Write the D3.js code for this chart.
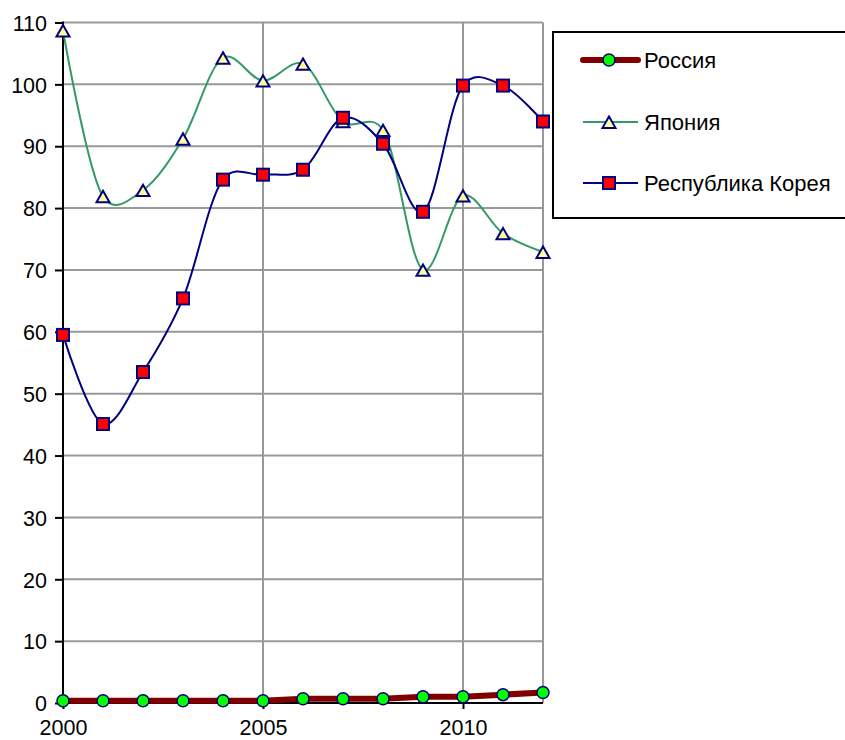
<!DOCTYPE html>
<html>
<head>
<meta charset="utf-8">
<script src="https://cdn.jsdelivr.net/npm/d3@7"></script>
<style>
body{margin:0;background:#fff}
text{font-family:"Liberation Sans",Arial,sans-serif;fill:#000}
</style>
</head>
<body>
<div id="chart"></div>
<script>
var years = [2000,2001,2002,2003,2004,2005,2006,2007,2008,2009,2010,2011,2012]
var russia = [0.35,0.35,0.35,0.35,0.35,0.35,0.7,0.7,0.7,1.0,1.0,1.35,1.7]
var japan = [108.7,81.9,82.9,91.2,104.3,100.6,103.3,94.0,92.6,70.0,82.0,75.9,72.9]
var korea = [59.5,45.1,53.5,65.4,84.6,85.4,86.2,94.6,90.4,79.4,99.8,99.8,94.0]
var yTicks = [0,10,20,30,40,50,60,70,80,90,100,110]
var xTicks = [2000,2005,2010]
var names = ["Россия","Япония","Республика Корея"]

var W = 845, H = 740
var svg = d3.select("#chart").append("svg").attr("width",W).attr("height",H)

var x = d3.scaleLinear().domain([2000,2012]).range([63,543])
var y = d3.scaleLinear().domain([0,110]).range([703,22.5])

// grid
svg.append("g").selectAll("line").data(yTicks.filter(function(d){return d>0}))
	.enter().append("line")
	.attr("x1",x(2000)).attr("x2",x(2012))
	.attr("y1",function(d){return y(d)}).attr("y2",function(d){return y(d)})
	.attr("stroke","#999").attr("stroke-width",2)
svg.append("g").selectAll("line").data([2005,2010,2012])
	.enter().append("line")
	.attr("x1",function(d){return x(d)}).attr("x2",function(d){return x(d)})
	.attr("y1",y(110)).attr("y2",y(0))
	.attr("stroke","#999").attr("stroke-width",2)

// axes
var yAxis = svg.append("g").attr("transform","translate("+x(2000)+",0)")
	.call(d3.axisLeft(y).tickValues(yTicks).tickSize(8).tickPadding(8))
var xAxis = svg.append("g").attr("transform","translate(0,"+y(0)+")")
	.call(d3.axisBottom(x).tickValues(xTicks).tickFormat(d3.format("d")).tickSize(6).tickPadding(11))
svg.selectAll(".domain").remove()
svg.selectAll(".tick line").attr("stroke","#000").attr("stroke-width",2)
svg.selectAll(".tick text").style("font-size","21.5px").attr("fill","#000")
yAxis.selectAll(".tick text").attr("dy","0.36em")
svg.append("line").attr("x1",x(2000)).attr("x2",x(2000)).attr("y1",y(110)-1).attr("y2",y(0)+1).attr("stroke","#000").attr("stroke-width",2)
svg.append("line").attr("x1",x(2000)).attr("x2",x(2012)).attr("y1",y(0)).attr("y2",y(0)).attr("stroke","#000").attr("stroke-width",2)

var line = d3.line().x(function(d,i){return x(years[i])}).y(function(d){return y(d)}).curve(d3.curveCatmullRom.alpha(0.15))
var flat = d3.line().x(function(d,i){return x(years[i])}).y(function(d){return y(d)})

function tri(s){return "M0,"+(-s)+"L"+(s)+","+(s*0.75)+"L"+(-s)+","+(s*0.75)+"Z"}

// Japan
svg.append("path").attr("d",line(japan)).attr("fill","none").attr("stroke","#339966").attr("stroke-width",2)
// Korea
svg.append("path").attr("d",line(korea)).attr("fill","none").attr("stroke","#000080").attr("stroke-width",2)
// Russia
svg.append("path").attr("d",flat(russia)).attr("fill","none").attr("stroke","#800000").attr("stroke-width",6).attr("stroke-linecap","round")

svg.append("g").selectAll("path").data(japan).enter().append("path")
	.attr("d",tri(6.5))
	.attr("transform",function(d,i){return "translate("+x(years[i])+","+(y(d)+1)+")"})
	.attr("fill","#FFFF99").attr("stroke","#000080").attr("stroke-width",2)
svg.append("g").selectAll("rect").data(korea).enter().append("rect")
	.attr("x",function(d,i){return x(years[i])-6}).attr("y",function(d){return y(d)-6})
	.attr("width",12).attr("height",12)
	.attr("fill","#FF0000").attr("stroke","#000080").attr("stroke-width",2)
svg.append("g").selectAll("circle").data(russia).enter().append("circle")
	.attr("cx",function(d,i){return x(years[i])}).attr("cy",function(d){return y(d)})
	.attr("r",6)
	.attr("fill","#00FF00").attr("stroke","#000080").attr("stroke-width",1.5)

// legend
var lg = svg.append("g")
lg.append("rect").attr("x",553).attr("y",32).attr("width",310).attr("height",186)
	.attr("fill","#fff").attr("stroke","#000").attr("stroke-width",2)
var ly = [60,122,183]
for (var i in names){
	var yy = ly[i]
	if (i==0){
		lg.append("line").attr("x1",583).attr("x2",638).attr("y1",yy).attr("y2",yy).attr("stroke","#800000").attr("stroke-width",6).attr("stroke-linecap","round")
		lg.append("circle").attr("cx",609).attr("cy",yy).attr("r",6).attr("fill","#00FF00").attr("stroke","#000080").attr("stroke-width",1.5)
	}else if (i==1){
		lg.append("line").attr("x1",583).attr("x2",638).attr("y1",yy).attr("y2",yy).attr("stroke","#339966").attr("stroke-width",2)
		lg.append("path").attr("d",tri(6.5)).attr("transform","translate(609,"+(yy+1)+")").attr("fill","#FFFF99").attr("stroke","#000080").attr("stroke-width",2)
	}else{
		lg.append("line").attr("x1",583).attr("x2",638).attr("y1",yy).attr("y2",yy).attr("stroke","#000080").attr("stroke-width",2)
		lg.append("rect").attr("x",603).attr("y",yy-6).attr("width",12).attr("height",12).attr("fill","#FF0000").attr("stroke","#000080").attr("stroke-width",2)
	}
	lg.append("text").attr("x",644).attr("y",yy).attr("dy","0.36em").style("font-size","22px").text(names[i])
}
</script>
</body>
</html>
